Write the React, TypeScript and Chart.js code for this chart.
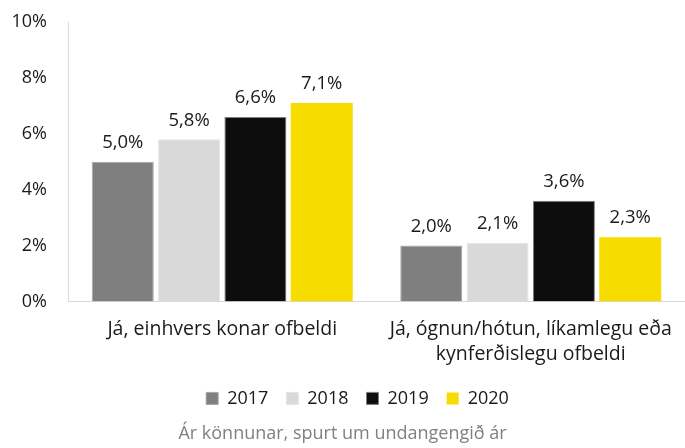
import React, { useEffect, useRef } from "react";
import { Chart, registerables } from "chart.js";

Chart.register(...registerables);

const categories: (string | string[])[] = [
  ["Já, einhvers konar ofbeldi"],
  ["Já, ógnun/hótun, líkamlegu eða", "kynferðislegu ofbeldi"],
];
const seriesLabels = ["2017", "2018", "2019", "2020"];
const values2017 = [5.0, 2.0];
const values2018 = [5.8, 2.1];
const values2019 = [6.6, 3.6];
const values2020 = [7.1, 2.3];
const yTicks = [0, 2, 4, 6, 8, 10];
const footerText = "Ár könnunar, spurt um undangengið ár";

const FONT = "'Open Sans', sans-serif";

const dataLabelPlugin = {
  id: "dataLabels",
  afterDatasetsDraw(chart: any) {
    const ctx = chart.ctx;
    ctx.save();
    ctx.font = `18.5px ${FONT}`;
    ctx.fillStyle = "#1a1a1a";
    ctx.textAlign = "center";
    ctx.textBaseline = "middle";
    chart.data.datasets.forEach((ds: any, i: number) => {
      const meta = chart.getDatasetMeta(i);
      meta.data.forEach((bar: any, j: number) => {
        const v = ds.data[j] as number;
        const txt = v.toFixed(1).replace(".", ",") + "%";
        ctx.fillText(txt, bar.x, bar.y - 19);
      });
    });
    ctx.restore();
  },
};

const legendShiftPlugin = {
  id: "legendShift",
  afterLayout(chart: any) {
    if (chart.legend) {
      chart.legend.left += 15;
      chart.legend.right += 15;
    }
  },
};

export default function App() {
  const ref = useRef<HTMLCanvasElement | null>(null);
  useEffect(() => {
    document.body.style.margin = "0";
    if (!ref.current) return;
    const chart = new Chart(ref.current, {
      type: "bar",
      data: {
        labels: categories as any,
        datasets: [
          { label: seriesLabels[0], data: values2017, backgroundColor: "#7f7f7f", borderColor: "#a6a6a6", borderWidth: 1 },
          { label: seriesLabels[1], data: values2018, backgroundColor: "#d9d9d9", borderColor: "#e6e6e6", borderWidth: 1 },
          { label: seriesLabels[2], data: values2019, backgroundColor: "#0d0d0d", borderColor: "#7f7f7f", borderWidth: 1 },
          { label: seriesLabels[3], data: values2020, backgroundColor: "#f7dc00", borderColor: "#f7dc00", borderWidth: 0 },
        ],
      },
      options: {
        animation: false,
        responsive: false,
        maintainAspectRatio: false,
        layout: { padding: { top: 22, right: 0, left: 0, bottom: 0 } },
        datasets: {
          bar: { categoryPercentage: 0.86, barPercentage: 0.935 },
        },
        scales: {
          x: {
            afterFit: (scale: any) => {
              scale.height = 70;
              scale.paddingLeft = 0;
              scale.paddingRight = 0;
            },
            grid: { display: false, drawTicks: false },
            border: { display: true, color: "#d9d9d9", width: 1 },
            ticks: {
              color: "#1a1a1a",
              font: { family: FONT, size: 19.5, lineHeight: 1.25 },
              padding: 16,
              maxRotation: 0,
              autoSkip: false,
            },
          },
          y: {
            min: 0,
            max: 10,
            afterFit: (scale: any) => {
              scale.width = 68;
              scale.paddingTop = 0;
              scale.paddingBottom = 0;
            },
            afterBuildTicks: (scale: any) => {
              scale.ticks = yTicks.map((v) => ({ value: v }));
            },
            grid: { display: false, drawTicks: false },
            border: { display: true, color: "#d9d9d9", width: 1 },
            ticks: {
              color: "#1a1a1a",
              font: { family: FONT, size: 18 },
              padding: 21,
              callback: (v: any) => `${v}%`,
            },
          },
        },
        plugins: {
          legend: {
            display: true,
            position: "bottom",
            labels: {
              color: "#1a1a1a",
              font: { family: FONT, size: 18 },
              boxWidth: 12,
              boxHeight: 12,
              padding: 18,
            },
          },
          title: {
            display: true,
            position: "bottom",
            text: footerText,
            color: "#808080",
            font: { family: FONT, size: 18, weight: "normal" },
            padding: { top: 6, bottom: 3 },
          },
          tooltip: { enabled: false },
        },
      },
      plugins: [dataLabelPlugin, legendShiftPlugin],
    });
    return () => chart.destroy();
  }, []);
  return (
    <div style={{ position: "absolute", left: 0, top: 0, width: 685, height: 448 }}>
      <canvas ref={ref} width={685} height={448} style={{ width: 685, height: 448 }} />
    </div>
  );
}
